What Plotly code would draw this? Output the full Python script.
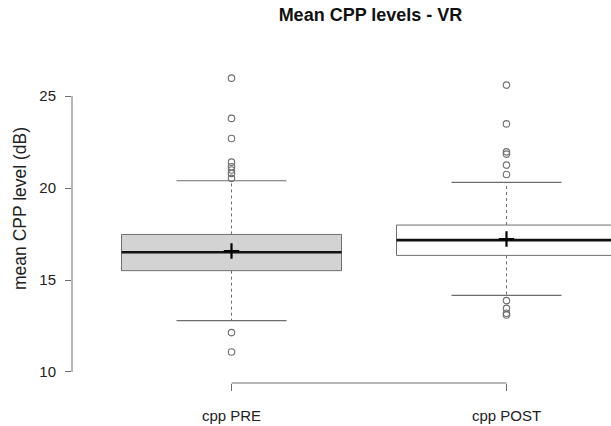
import plotly.graph_objects as go

categories = ["cpp PRE", "cpp POST"]
positions = [1, 2]
q1 = [15.51, 16.34]
median = [16.51, 17.17]
q3 = [17.48, 17.99]
whisker_lo = [12.79, 14.17]
whisker_hi = [20.40, 20.31]
means = [16.58, 17.23]
outliers_pre = [25.98, 23.79, 22.70, 21.41, 21.16, 20.98, 20.80, 20.53, 12.14, 11.09]
outliers_post = [25.60, 23.49, 21.97, 21.85, 21.25, 20.74, 13.88, 13.46, 13.19, 13.10]
fills = ["#d3d3d3", "#ffffff"]
y_ticks = [10, 15, 20, 25]

BOX_W = 0.8
CAP_W = 0.4
GRAY = "#6e6e6e"
FONT = "Liberation Sans, Arial, Helvetica, sans-serif"

fig = go.Figure()

for i, p in enumerate(positions):
    fig.add_trace(go.Box(
        x=[p], q1=[q1[i]], median=[median[i]], q3=[q3[i]],
        lowerfence=[q1[i]], upperfence=[q3[i]],
        width=BOX_W, fillcolor=fills[i],
        line=dict(color=GRAY, width=1), whiskerwidth=0,
        boxpoints=False, hoverinfo="skip", showlegend=False,
    ))
    fig.add_trace(go.Scatter(
        x=[p - BOX_W / 2, p + BOX_W / 2], y=[median[i], median[i]],
        mode="lines", line=dict(color="#111111", width=2.6),
        showlegend=False, hoverinfo="skip"))
    for a, b in ((q3[i], whisker_hi[i]), (q1[i], whisker_lo[i])):
        fig.add_trace(go.Scatter(
            x=[p, p], y=[a, b], mode="lines",
            line=dict(color=GRAY, width=1, dash="3px,3px"),
            showlegend=False, hoverinfo="skip"))
    for w in (whisker_hi[i], whisker_lo[i]):
        fig.add_trace(go.Scatter(
            x=[p - CAP_W / 2, p + CAP_W / 2], y=[w, w], mode="lines",
            line=dict(color=GRAY, width=1.2),
            showlegend=False, hoverinfo="skip"))

for p, outs in zip(positions, [outliers_pre, outliers_post]):
    fig.add_trace(go.Scatter(
        x=[p] * len(outs), y=outs, mode="markers",
        marker=dict(symbol="circle-open", size=6.5, color=GRAY, line=dict(width=1.1)),
        showlegend=False, hoverinfo="skip"))

fig.add_trace(go.Scatter(
    x=positions, y=means, mode="markers",
    marker=dict(symbol="cross-thin", size=11, color="#000000", line=dict(width=2.2, color="#000000")),
    showlegend=False, hoverinfo="skip"))

fig.add_shape(type="line", xref="paper", yref="y", x0=0, x1=0, y0=y_ticks[0], y1=y_ticks[-1],
              line=dict(color=GRAY, width=1))
fig.add_shape(type="line", xref="x", yref="paper", x0=positions[0], x1=positions[-1], y0=0, y1=0,
              line=dict(color=GRAY, width=1))

fig.add_annotation(text="mean CPP level (dB)", textangle=-90, showarrow=False,
                   xref="paper", yref="paper", x=(20 - 72) / 539, y=(383 - 209) / 317,
                   xanchor="center", yanchor="middle",
                   font=dict(size=17.5, family=FONT, color="#222222"))

fig.update_layout(
    width=611, height=426,
    margin=dict(l=72, r=0, t=66, b=43, autoexpand=False),
    paper_bgcolor="white", plot_bgcolor="white",
    font=dict(family=FONT, size=15, color="#222222"),
    title=dict(text="<b>Mean CPP levels - VR</b>", x=370.5 / 611, xref="container",
               xanchor="center", y=1 - 15 / 426, yref="container", yanchor="middle",
               font=dict(size=18, family=FONT, color="#111111")),
    showlegend=False,
    xaxis=dict(range=[0.42, 0.42 + 539 / 275], tickvals=positions, ticktext=categories,
               showgrid=False, zeroline=False, showline=False, automargin=False,
               ticks="outside", ticklen=7, tickcolor=GRAY, tickwidth=1,
               ticklabelstandoff=12, tickfont=dict(size=15)),
    yaxis=dict(range=[9.40, 26.64], tickvals=y_ticks, showgrid=False, zeroline=False,
               showline=False, automargin=False, ticks="outside", ticklen=6, tickcolor=GRAY,
               tickwidth=1, ticklabelstandoff=6, tickfont=dict(size=15)),
)

fig.write_html("out.html", config={"displayModeBar": False},
               post_script="document.body.style.margin='0px';document.body.style.overflow='hidden';")
